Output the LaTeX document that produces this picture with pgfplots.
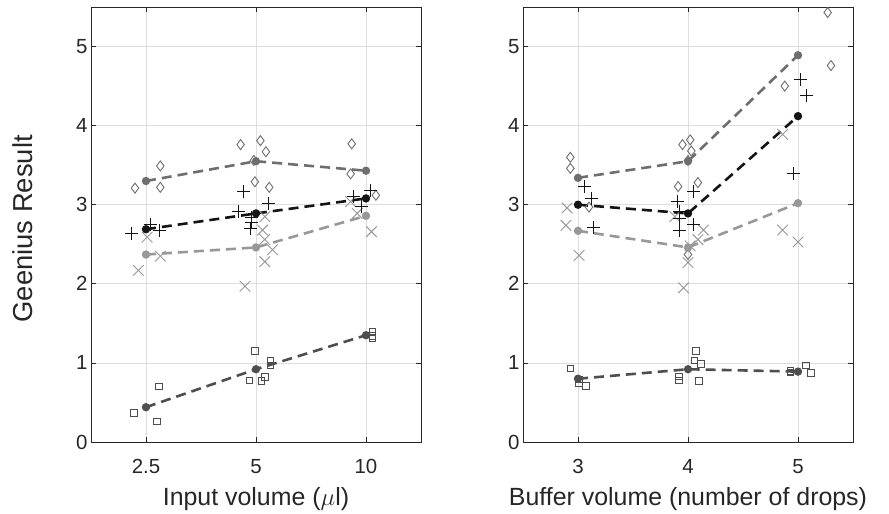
\documentclass[border=0pt]{standalone}
\usepackage{fontspec}
\setmainfont{Liberation Sans}
\usepackage{pgfplots}
\pgfplotsset{compat=1.18}

\definecolor{cdia}{RGB}{110,110,110}
\definecolor{cplus}{RGB}{20,20,20}
\definecolor{cx}{RGB}{152,152,152}
\definecolor{csq}{RGB}{78,78,78}
\definecolor{gridc}{RGB}{222,222,222}
\definecolor{axc}{RGB}{40,40,40}

\pgfplotsset{
  panel/.style={
    scale only axis, width=330bp, height=435bp,
    ymin=0, ymax=5.5, ytick={0,1,2,3,4,5},
    grid=major, grid style={gridc, line width=0.8bp},
    axis line style={axc, line width=0.9bp},
    tick style={axc, line width=0.8bp},
    tick align=inside, tick pos=both, major tick length=5bp,
    tick label style={font=\fontsize{20.5}{24}\selectfont, text=black!85},
    /pgf/number format/assume math mode=true,
    label style={font=\fontsize{25}{29}\selectfont, text=black!85},
    xticklabel style={yshift=-14bp},
    xlabel style={at={(axis description cs:0.5,0)}, anchor=base, yshift=-63bp},
  },
  dia/.style={only marks, mark=diamond, mark size=5bp, color=cdia,
    mark options={line width=0.9bp}},
  pls/.style={only marks, mark=+, mark size=6.5bp, color=cplus,
    mark options={line width=0.9bp}},
  crs/.style={only marks, mark=x, mark size=7.5bp, color=cx,
    mark options={line width=0.9bp}},
  sq/.style={only marks, mark=square, mark size=3.3bp, color=csq,
    mark options={line width=0.9bp}},
  mean/.style={line width=2.6bp, dash pattern=on 10bp off 6bp, mark=*,
    mark size=2.8bp, mark options={solid}},
}

\begin{document}
\begin{tikzpicture}
\useasboundingbox (0,0) rectangle (889bp,514bp);

% ---- left panel: input volume
\begin{axis}[panel, at={(91bp,72bp)}, anchor=south west,
  xmin=0.5, xmax=3.5, xtick={1,2,3}, xticklabels={2.5,5,10},
  xlabel={Input volume ($\mu$l)},
  ylabel={Geenius Result},
  ylabel style={at={(axis description cs:-0.176,0.49)}, anchor=base,
    font=\fontsize{27.5}{31}\selectfont},
]
\addplot[dia] coordinates {
  (0.90,3.21) (1.13,3.49) (1.13,3.22)
  (1.86,3.76) (2.04,3.81) (2.09,3.67) (1.98,3.56) (1.99,3.29) (2.12,3.22)
  (2.87,3.77) (2.86,3.39) (3.09,3.12)};
\addplot[crs] coordinates {
  (1.01,2.59) (1.13,2.35) (0.93,2.17)
  (2.08,2.85) (2.06,2.68) (2.08,2.56) (2.15,2.43) (2.08,2.28) (1.90,1.97)
  (2.86,3.04) (2.92,2.89) (3.05,2.66)};
\addplot[pls] coordinates {
  (0.87,2.64) (1.04,2.75) (1.12,2.68)
  (1.89,3.17) (1.84,2.92) (2.11,3.02) (1.96,2.84) (1.96,2.78) (1.95,2.70)
  (3.04,3.18) (2.89,3.10) (2.96,2.98)};
\addplot[sq] coordinates {
  (0.89,0.37) (1.12,0.70) (1.10,0.26)
  (1.99,1.15) (1.94,0.78) (2.05,0.77) (2.08,0.82) (2.13,1.03) (2.13,0.97)
  (3.06,1.40) (3.06,1.31) (3.06,1.34)};

\addplot[mean, color=cdia] coordinates {(1,3.30) (2,3.55) (3,3.43)};
\addplot[mean, color=cx] coordinates {(1,2.37) (2,2.46) (3,2.86)};
\addplot[mean, color=cplus] coordinates {(1,2.69) (2,2.89) (3,3.08)};
\addplot[mean, color=csq] coordinates {(1,0.44) (2,0.92) (3,1.35)};
\end{axis}

% ---- right panel: buffer volume
\begin{axis}[panel, at={(523bp,72bp)}, anchor=south west,
  xmin=2.5, xmax=5.5, xtick={3,4,5},
  xlabel={Buffer volume (number of drops)},
]
\addplot[dia] coordinates {
  (2.93,3.60) (2.93,3.46) (3.10,2.97)
  (3.95,3.76) (4.02,3.82) (4.03,3.68) (4.00,3.56) (3.91,3.23) (4.09,3.28) (4.00,2.37)
  (5.27,5.43) (5.30,4.76) (4.88,4.50)};
\addplot[crs] coordinates {
  (2.90,2.96) (2.89,2.74) (3.01,2.36)
  (3.88,2.85) (4.14,2.68) (4.09,2.56) (4.02,2.48) (4.00,2.27) (3.96,1.95)
  (4.86,3.89) (4.86,2.68) (5.00,2.53)};
\addplot[pls] coordinates {
  (3.06,3.23) (3.12,3.08) (3.14,2.71)
  (3.90,3.04) (3.92,2.92) (3.92,2.83) (3.92,2.68) (4.05,3.17) (4.05,2.75)
  (5.02,4.58) (5.08,4.38) (4.96,3.39)};
\addplot[sq] coordinates {
  (2.93,0.93) (3.01,0.79) (3.01,0.75) (3.07,0.71)
  (3.92,0.83) (3.92,0.78) (4.07,1.15) (4.06,1.03) (4.12,0.99) (4.10,0.77)
  (4.93,0.88) (4.93,0.90) (5.07,0.97) (5.12,0.87)};

\addplot[mean, color=cdia] coordinates {(3,3.34) (4,3.55) (5,4.89)};
\addplot[mean, color=cx] coordinates {(3,2.67) (4,2.46) (5,3.02)};
\addplot[mean, color=cplus] coordinates {(3,3.00) (4,2.89) (5,4.12)};
\addplot[mean, color=csq] coordinates {(3,0.80) (4,0.92) (5,0.89)};
\end{axis}
\end{tikzpicture}
\end{document}
